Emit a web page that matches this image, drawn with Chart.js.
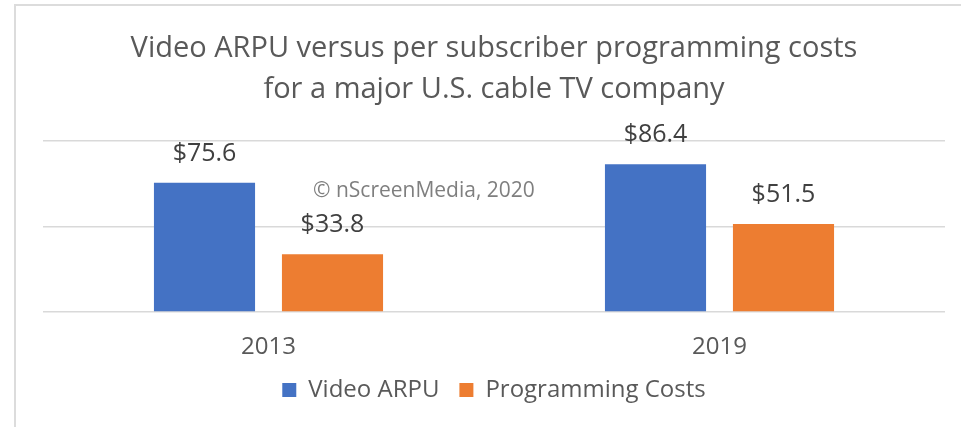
<!DOCTYPE html>
<html>
<head>
<meta charset="utf-8">
<script src="https://cdn.jsdelivr.net/npm/chart.js@4.4.1/dist/chart.umd.min.js"></script>
<style>
  body { margin: 0; background: #fff; }
  #frame { position: absolute; left: 14px; top: 4px; width: 960px; height: 430px;
           border-left: 2px solid #dcdcdc; border-top: 2px solid #dcdcdc; }
  #grafico { position: absolute; left: 0; top: 0; }
  #marca { position: absolute; left: 313px; top: 175px; font: 21px 'Open Sans'; color: #7f7f7f; white-space: nowrap; }
</style>
</head>
<body>
<div id="frame"></div>
<canvas id="grafico" width="961" height="427"></canvas>
<div id="marca">© nScreenMedia, 2020</div>
<script>
// dados do grafico
var anos = ['2013', '2019'];
var videoArpu = [75.6, 86.4];
var custosProgramacao = [33.8, 51.5];
var yTicks = [0, 50, 100];

var fonte = "'Open Sans', 'Noto Sans', sans-serif";

// rotulos de valor em cima das barras
var rotulos = {
    id: 'rotulos',
    afterDatasetsDraw: function(chart) {
        var ctx = chart.ctx;
        ctx.save();
        ctx.font = '25px ' + fonte;
        ctx.fillStyle = '#404040';
        ctx.textAlign = 'center';
        ctx.textBaseline = 'middle';
        chart.data.datasets.forEach(function(ds, i) {
            chart.getDatasetMeta(i).data.forEach(function(bar, j) {
                ctx.fillText('$' + ds.data[j].toFixed(1), bar.x, bar.y - 29);
            });
        });
        ctx.restore();
    }
};

var data = {
    labels: anos,
    datasets: [{
        label: 'Video ARPU',
        backgroundColor: '#4472C4',
        data: videoArpu
    },
    {
        label: 'Programming Costs',
        backgroundColor: '#ED7D31',
        data: custosProgramacao
    }]
};

var options = {
    responsive: false,
    animation: false,
    layout: { padding: { left: 43, right: 16, top: 0, bottom: 15 } },
    datasets: {
        bar: { categoryPercentage: 0.5676, barPercentage: 0.79 }
    },
    scales: {
        y: {
            min: yTicks[0],
            max: yTicks[yTicks.length - 1],
            afterBuildTicks: function(axis) {
                axis.ticks = yTicks.map(function(v) { return { value: v }; });
            },
            ticks: { display: false },
            border: { display: false },
            grid: { color: '#d9d9d9', lineWidth: 1.5, drawTicks: false }
        },
        x: {
            border: { display: false },
            grid: { display: false, drawTicks: false },
            ticks: { color: '#595959', font: { family: fonte, size: 24, lineHeight: 1.4 }, padding: 18 },
            // eixo x mais baixo para a legenda ficar perto dos rotulos
            afterFit: function(scale) { scale.height = 46; }
        }
    },
    plugins: {
        title: {
            display: true,
            text: ['Video ARPU versus per subscriber programming costs', 'for a major U.S. cable TV company'],
            color: '#595959',
            font: { family: fonte, size: 29, weight: 'normal', lineHeight: 1.414 },
            padding: { top: 28, bottom: 31 }
        },
        legend: {
            position: 'bottom',
            labels: { color: '#595959', font: { family: fonte, size: 24 }, boxWidth: 14, boxHeight: 14, padding: 20 }
        },
        tooltip: { enabled: false }
    }
};

var ctx = document.querySelector('#grafico').getContext('2d');
var barChart = new Chart(ctx, {
    type: 'bar',
    data: data,
    options: options,
    plugins: [rotulos]
});
</script>
</body>
</html>
